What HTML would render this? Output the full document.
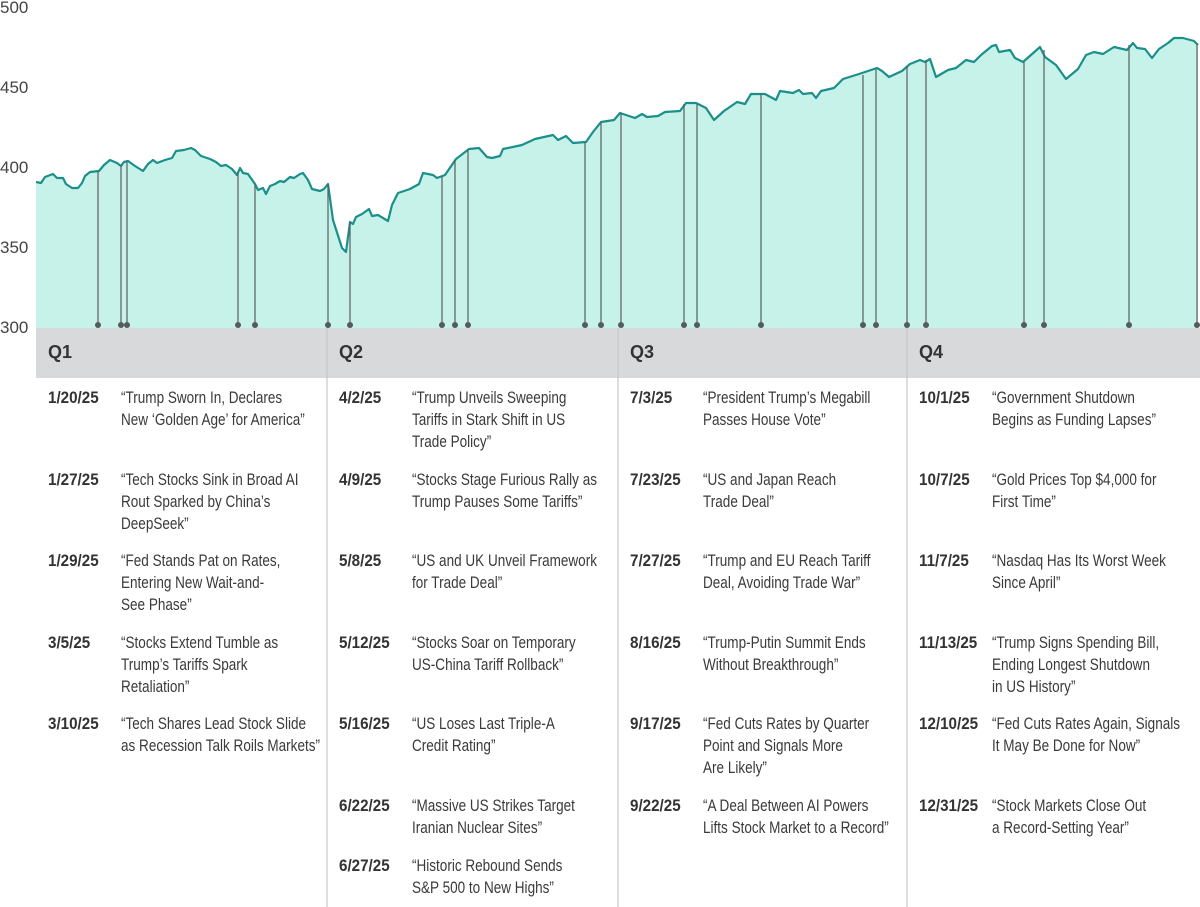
<!DOCTYPE html>
<html><head><meta charset="utf-8"><style>
body{margin:0;width:1200px;height:907px;background:#fff;position:relative;overflow:hidden;font-family:"Liberation Sans",sans-serif;color:#3a3a3a}
.y{position:absolute;left:0;font-family:"Liberation Sans",sans-serif;font-size:17px;color:#444;line-height:20px}
.q{position:absolute;top:342px;font-family:"Liberation Sans",sans-serif;font-weight:bold;font-size:18px;color:#333}
.r{position:absolute;font-size:16.5px;line-height:22px;white-space:nowrap;transform:scaleX(0.82);transform-origin:0 0}
.d{position:absolute;font-weight:bold;font-size:16.5px;line-height:22px;color:#333;white-space:nowrap;transform:scaleX(0.92);transform-origin:0 0}
</style></head><body>
<svg width="1200" height="907" style="position:absolute;left:0;top:0">
<rect x="36" y="328" width="1164" height="50" fill="#d7d9db"/>
<g stroke="#c8c8c8" stroke-width="1.2"><line x1="327" y1="328" x2="327" y2="907"/><line x1="618" y1="328" x2="618" y2="907"/><line x1="907" y1="328" x2="907" y2="907"/></g>
<polygon fill="#c6f2ea" points="36,328 36,182 41,183 45,177 53,174 57,178 63,178 66,184 72,188 78,188 82,183 85,176 90,172 99,171 104,165 110,160 117,163 121,166 124,162 128,161 135,166 143,171 148,164 153,160 157,163 165,160 172,158 176,151 184,150 191,148 195,150 201,156 210,159 216,162 221,166 226,165 232,169 237,175 240,168 243,173 248,174 255,184 258,190 263,188 266,194 270,186 275,184 280,181 284,182 290,177 294,178 300,174 303,173 308,180 312,189 320,191 324,189 328,184 333,220 342,248 346,252 350,222 353,224 356,217 362,214 369,209 372,216 378,215 388,221 392,205 398,193 410,189 419,184 423,173 433,175 437,178 445,175 456,159 469,149 479,148 487,157 492,158 500,156 503,149 522,145 535,139 553,135 558,140 566,136 573,143 586,142 593,132 601,122 614,120 620,113 635,118 642,114 647,117 658,116 665,112 680,111 686,103 696,103 706,108 714,120 724,111 737,102 745,104 751,94 765,94 776,100 780,91 793,93 799,90 803,94 812,93 816,98 821,91 834,88 843,79 859,74 877,68 882,71 889,77 902,71 910,64 920,60 925,62 930,59 936,77 948,70 956,68 966,60 974,62 981,55 992,46 996,45 999,52 1010,50 1015,58 1023,62 1040,47 1045,57 1056,65 1066,79 1078,69 1086,55 1094,52 1103,54 1114,47 1127,50 1133,43 1137,48 1145,49 1152,58 1159,49 1168,43 1174,38 1183,38 1194,41 1198,45 1198,328"/>
<polyline fill="none" stroke="#1b8f8a" stroke-width="2.2" stroke-linejoin="round" points="36,182 41,183 45,177 53,174 57,178 63,178 66,184 72,188 78,188 82,183 85,176 90,172 99,171 104,165 110,160 117,163 121,166 124,162 128,161 135,166 143,171 148,164 153,160 157,163 165,160 172,158 176,151 184,150 191,148 195,150 201,156 210,159 216,162 221,166 226,165 232,169 237,175 240,168 243,173 248,174 255,184 258,190 263,188 266,194 270,186 275,184 280,181 284,182 290,177 294,178 300,174 303,173 308,180 312,189 320,191 324,189 328,184 333,220 342,248 346,252 350,222 353,224 356,217 362,214 369,209 372,216 378,215 388,221 392,205 398,193 410,189 419,184 423,173 433,175 437,178 445,175 456,159 469,149 479,148 487,157 492,158 500,156 503,149 522,145 535,139 553,135 558,140 566,136 573,143 586,142 593,132 601,122 614,120 620,113 635,118 642,114 647,117 658,116 665,112 680,111 686,103 696,103 706,108 714,120 724,111 737,102 745,104 751,94 765,94 776,100 780,91 793,93 799,90 803,94 812,93 816,98 821,91 834,88 843,79 859,74 877,68 882,71 889,77 902,71 910,64 920,60 925,62 930,59 936,77 948,70 956,68 966,60 974,62 981,55 992,46 996,45 999,52 1010,50 1015,58 1023,62 1040,47 1045,57 1056,65 1066,79 1078,69 1086,55 1094,52 1103,54 1114,47 1127,50 1133,43 1137,48 1145,49 1152,58 1159,49 1168,43 1174,38 1183,38 1194,41 1198,45"/>
<g stroke="#5a5f60" stroke-width="1.2">
<line x1="98" y1="171" x2="98" y2="325"/><line x1="121" y1="165" x2="121" y2="325"/><line x1="127" y1="161" x2="127" y2="325"/><line x1="238" y1="172" x2="238" y2="325"/><line x1="255" y1="184" x2="255" y2="325"/><line x1="328" y1="184" x2="328" y2="325"/><line x1="350" y1="222" x2="350" y2="325"/><line x1="442" y1="176" x2="442" y2="325"/><line x1="455" y1="160" x2="455" y2="325"/><line x1="468" y1="150" x2="468" y2="325"/><line x1="585" y1="142" x2="585" y2="325"/><line x1="601" y1="122" x2="601" y2="325"/><line x1="621" y1="113" x2="621" y2="325"/><line x1="684" y1="104" x2="684" y2="325"/><line x1="697" y1="104" x2="697" y2="325"/><line x1="761" y1="94" x2="761" y2="325"/><line x1="863" y1="75" x2="863" y2="325"/><line x1="876" y1="69" x2="876" y2="325"/><line x1="907" y1="66" x2="907" y2="325"/><line x1="926" y1="60" x2="926" y2="325"/><line x1="1024" y1="62" x2="1024" y2="325"/><line x1="1044" y1="50" x2="1044" y2="325"/><line x1="1129" y1="45" x2="1129" y2="325"/><line x1="1197" y1="44" x2="1197" y2="325"/>
</g>
<g fill="#555a5b">
<circle cx="98" cy="325" r="3"/><circle cx="121" cy="325" r="3"/><circle cx="127" cy="325" r="3"/><circle cx="238" cy="325" r="3"/><circle cx="255" cy="325" r="3"/><circle cx="328" cy="325" r="3"/><circle cx="350" cy="325" r="3"/><circle cx="442" cy="325" r="3"/><circle cx="455" cy="325" r="3"/><circle cx="468" cy="325" r="3"/><circle cx="585" cy="325" r="3"/><circle cx="601" cy="325" r="3"/><circle cx="621" cy="325" r="3"/><circle cx="684" cy="325" r="3"/><circle cx="697" cy="325" r="3"/><circle cx="761" cy="325" r="3"/><circle cx="863" cy="325" r="3"/><circle cx="876" cy="325" r="3"/><circle cx="907" cy="325" r="3"/><circle cx="926" cy="325" r="3"/><circle cx="1024" cy="325" r="3"/><circle cx="1044" cy="325" r="3"/><circle cx="1129" cy="325" r="3"/><circle cx="1197" cy="325" r="3"/>
</g>
</svg>
<div class="y" style="top:-2px">500</div>
<div class="y" style="top:78px">450</div>
<div class="y" style="top:158px">400</div>
<div class="y" style="top:238px">350</div>
<div class="y" style="top:318px">300</div>
<div class="q" style="left:48px">Q1</div><div class="q" style="left:339px">Q2</div><div class="q" style="left:630px">Q3</div><div class="q" style="left:919px">Q4</div>

<div class="d" style="left:48px;top:387px">1/20/25</div><div class="r" style="left:121px;top:387px">“Trump Sworn In, Declares<br>New ‘Golden Age’ for America”</div>
<div class="d" style="left:48px;top:469px">1/27/25</div><div class="r" style="left:121px;top:469px">“Tech Stocks Sink in Broad AI<br>Rout Sparked by China’s<br>DeepSeek”</div>
<div class="d" style="left:48px;top:550px">1/29/25</div><div class="r" style="left:121px;top:550px">“Fed Stands Pat on Rates,<br>Entering New Wait-and-<br>See Phase”</div>
<div class="d" style="left:48px;top:632px">3/5/25</div><div class="r" style="left:121px;top:632px">“Stocks Extend Tumble as<br>Trump’s Tariffs Spark<br>Retaliation”</div>
<div class="d" style="left:48px;top:713px">3/10/25</div><div class="r" style="left:121px;top:713px">“Tech Shares Lead Stock Slide<br>as Recession Talk Roils Markets”</div>

<div class="d" style="left:339px;top:387px">4/2/25</div><div class="r" style="left:412px;top:387px">“Trump Unveils Sweeping<br>Tariffs in Stark Shift in US<br>Trade Policy”</div>
<div class="d" style="left:339px;top:469px">4/9/25</div><div class="r" style="left:412px;top:469px">“Stocks Stage Furious Rally as<br>Trump Pauses Some Tariffs”</div>
<div class="d" style="left:339px;top:550px">5/8/25</div><div class="r" style="left:412px;top:550px">“US and UK Unveil Framework<br>for Trade Deal”</div>
<div class="d" style="left:339px;top:632px">5/12/25</div><div class="r" style="left:412px;top:632px">“Stocks Soar on Temporary<br>US-China Tariff Rollback”</div>
<div class="d" style="left:339px;top:713px">5/16/25</div><div class="r" style="left:412px;top:713px">“US Loses Last Triple-A<br>Credit Rating”</div>
<div class="d" style="left:339px;top:795px">6/22/25</div><div class="r" style="left:412px;top:795px">“Massive US Strikes Target<br>Iranian Nuclear Sites”</div>
<div class="d" style="left:339px;top:855px">6/27/25</div><div class="r" style="left:412px;top:855px">“Historic Rebound Sends<br>S&amp;P 500 to New Highs”</div>

<div class="d" style="left:630px;top:387px">7/3/25</div><div class="r" style="left:703px;top:387px">“President Trump’s Megabill<br>Passes House Vote”</div>
<div class="d" style="left:630px;top:469px">7/23/25</div><div class="r" style="left:703px;top:469px">“US and Japan Reach<br>Trade Deal”</div>
<div class="d" style="left:630px;top:550px">7/27/25</div><div class="r" style="left:703px;top:550px">“Trump and EU Reach Tariff<br>Deal, Avoiding Trade War”</div>
<div class="d" style="left:630px;top:632px">8/16/25</div><div class="r" style="left:703px;top:632px">“Trump-Putin Summit Ends<br>Without Breakthrough”</div>
<div class="d" style="left:630px;top:713px">9/17/25</div><div class="r" style="left:703px;top:713px">“Fed Cuts Rates by Quarter<br>Point and Signals More<br>Are Likely”</div>
<div class="d" style="left:630px;top:795px">9/22/25</div><div class="r" style="left:703px;top:795px">“A Deal Between AI Powers<br>Lifts Stock Market to a Record”</div>

<div class="d" style="left:919px;top:387px">10/1/25</div><div class="r" style="left:992px;top:387px">“Government Shutdown<br>Begins as Funding Lapses”</div>
<div class="d" style="left:919px;top:469px">10/7/25</div><div class="r" style="left:992px;top:469px">“Gold Prices Top $4,000 for<br>First Time”</div>
<div class="d" style="left:919px;top:550px">11/7/25</div><div class="r" style="left:992px;top:550px">“Nasdaq Has Its Worst Week<br>Since April”</div>
<div class="d" style="left:919px;top:632px">11/13/25</div><div class="r" style="left:992px;top:632px">“Trump Signs Spending Bill,<br>Ending Longest Shutdown<br>in US History”</div>
<div class="d" style="left:919px;top:713px">12/10/25</div><div class="r" style="left:992px;top:713px">“Fed Cuts Rates Again, Signals<br>It May Be Done for Now”</div>
<div class="d" style="left:919px;top:795px">12/31/25</div><div class="r" style="left:992px;top:795px">“Stock Markets Close Out<br>a Record-Setting Year”</div>
</body></html>
